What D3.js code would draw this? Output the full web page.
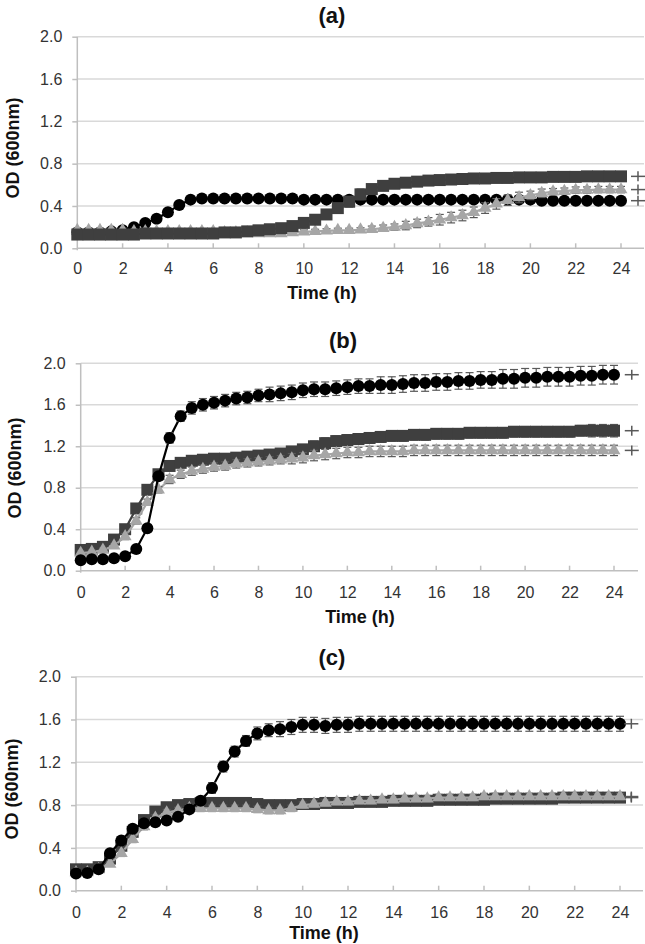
<!DOCTYPE html>
<html><head><meta charset="utf-8">
<script src="https://cdn.jsdelivr.net/npm/d3@7/dist/d3.min.js"></script>
<style>
html,body{margin:0;padding:0;background:#fff;}
svg{display:block;}
text{font-family:"Liberation Sans",Arial,sans-serif;}
</style></head><body>
<svg id="chart" width="645" height="944"></svg>
<script>
// ---------- DATA ----------
const times = d3.range(0, 24.01, 0.5); // 0, 0.5, ... 24 (sampling times, h)
const xTicks = [0,2,4,6,8,10,12,14,16,18,20,22,24];
const yTicks = [0.0,0.4,0.8,1.2,1.6,2.0];
const panelTitles = ["(a)","(b)","(c)"];
const xTitle = "Time (h)";
const yTitle = "OD (600nm)";

// Panel (a)
const aCircle = [0.15,0.15,0.15,0.16,0.17,0.20,0.24,0.28,0.34,0.41,0.46,0.47,0.47,0.47,0.47,0.47,0.47,0.47,0.47,0.47,0.46,0.46,0.46,0.46,0.46,0.46,0.46,0.46,0.46,0.46,0.46,0.46,0.46,0.46,0.46,0.46,0.46,0.46,0.46,0.46,0.46,0.45,0.45,0.45,0.45,0.45,0.45,0.45,0.45];
const aSquare = [0.13,0.13,0.13,0.13,0.13,0.13,0.14,0.14,0.14,0.14,0.14,0.14,0.14,0.15,0.15,0.16,0.17,0.18,0.19,0.21,0.24,0.27,0.32,0.38,0.44,0.51,0.56,0.59,0.61,0.62,0.63,0.64,0.645,0.65,0.655,0.66,0.66,0.665,0.665,0.67,0.67,0.67,0.675,0.675,0.675,0.68,0.68,0.68,0.68];
const aTriangle = [0.17,0.17,0.17,0.17,0.17,0.16,0.16,0.16,0.16,0.16,0.16,0.16,0.16,0.15,0.15,0.15,0.14,0.14,0.14,0.15,0.155,0.16,0.165,0.17,0.17,0.175,0.18,0.19,0.20,0.215,0.235,0.25,0.27,0.29,0.31,0.34,0.38,0.42,0.455,0.48,0.50,0.52,0.535,0.54,0.55,0.55,0.555,0.555,0.555];
const aCircleErr = [0.01,0.01,0.01,0.01,0.01,0.01,0.01,0.01,0.01,0.01,0.01,0.01,0.01,0.01,0.01,0.01,0.01,0.01,0.01,0.01,0.01,0.01,0.01,0.01,0.01,0.01,0.01,0.01,0.01,0.01,0.01,0.01,0.01,0.01,0.01,0.01,0.01,0.01,0.01,0.01,0.01,0.01,0.01,0.01,0.01,0.01,0.01,0.01,0.01];
const aSquareErr = [0.01,0.01,0.01,0.01,0.01,0.01,0.01,0.01,0.01,0.01,0.01,0.01,0.01,0.01,0.01,0.01,0.01,0.01,0.02,0.02,0.03,0.03,0.04,0.04,0.05,0.05,0.04,0.03,0.02,0.02,0.02,0.02,0.02,0.02,0.02,0.02,0.02,0.02,0.02,0.02,0.02,0.02,0.02,0.02,0.02,0.02,0.02,0.02,0.02];
const aTriangleErr = [0.02,0.02,0.02,0.02,0.02,0.02,0.02,0.02,0.02,0.02,0.02,0.02,0.02,0.02,0.02,0.02,0.02,0.02,0.02,0.02,0.02,0.02,0.02,0.02,0.02,0.02,0.03,0.03,0.03,0.04,0.04,0.04,0.05,0.05,0.05,0.05,0.05,0.05,0.05,0.05,0.04,0.04,0.03,0.03,0.03,0.03,0.03,0.03,0.03];

// Panel (b)
const bCircle = [0.10,0.11,0.11,0.12,0.14,0.21,0.41,0.91,1.28,1.49,1.57,1.60,1.62,1.64,1.66,1.67,1.69,1.70,1.71,1.72,1.74,1.75,1.75,1.76,1.77,1.78,1.78,1.79,1.79,1.80,1.81,1.81,1.82,1.82,1.83,1.83,1.84,1.84,1.85,1.85,1.86,1.86,1.87,1.87,1.87,1.88,1.88,1.89,1.89];
const bSquare = [0.20,0.21,0.23,0.30,0.40,0.60,0.78,0.93,1.01,1.04,1.06,1.07,1.08,1.08,1.09,1.10,1.11,1.12,1.13,1.15,1.17,1.20,1.23,1.25,1.26,1.27,1.28,1.29,1.30,1.30,1.31,1.31,1.32,1.32,1.32,1.33,1.33,1.33,1.33,1.34,1.34,1.34,1.34,1.34,1.34,1.35,1.35,1.35,1.35];
const bTriangle = [0.17,0.18,0.20,0.24,0.33,0.48,0.66,0.78,0.88,0.93,0.96,0.98,1.00,1.01,1.03,1.04,1.05,1.06,1.07,1.08,1.09,1.11,1.12,1.13,1.14,1.14,1.15,1.15,1.15,1.15,1.16,1.16,1.16,1.16,1.16,1.16,1.16,1.16,1.16,1.16,1.16,1.16,1.16,1.16,1.16,1.16,1.16,1.16,1.16];
const bCircleErr = [0.01,0.01,0.01,0.01,0.01,0.02,0.03,0.04,0.05,0.05,0.06,0.06,0.06,0.06,0.06,0.06,0.06,0.07,0.07,0.07,0.07,0.07,0.07,0.07,0.07,0.07,0.07,0.08,0.08,0.08,0.08,0.08,0.08,0.08,0.08,0.08,0.08,0.08,0.09,0.09,0.09,0.09,0.09,0.09,0.09,0.09,0.09,0.09,0.09];
const bSquareErr = [0.02,0.02,0.02,0.02,0.03,0.03,0.03,0.03,0.04,0.04,0.04,0.04,0.04,0.04,0.04,0.04,0.04,0.04,0.04,0.04,0.04,0.05,0.05,0.05,0.05,0.05,0.05,0.05,0.05,0.05,0.05,0.05,0.05,0.05,0.05,0.05,0.05,0.05,0.05,0.05,0.05,0.05,0.05,0.05,0.05,0.05,0.06,0.06,0.06];
const bTriangleErr = [0.02,0.02,0.02,0.02,0.03,0.03,0.03,0.03,0.04,0.04,0.04,0.04,0.04,0.04,0.04,0.04,0.04,0.04,0.04,0.05,0.05,0.05,0.05,0.05,0.05,0.05,0.05,0.05,0.05,0.05,0.05,0.05,0.05,0.05,0.05,0.05,0.05,0.05,0.05,0.05,0.05,0.05,0.05,0.05,0.05,0.05,0.05,0.05,0.05];

// Panel (c)
const cCircle = [0.16,0.165,0.20,0.35,0.47,0.58,0.63,0.64,0.655,0.69,0.76,0.84,0.96,1.16,1.30,1.40,1.47,1.50,1.51,1.53,1.55,1.55,1.54,1.55,1.55,1.56,1.56,1.56,1.56,1.56,1.56,1.56,1.56,1.56,1.56,1.56,1.56,1.56,1.56,1.56,1.56,1.56,1.56,1.56,1.56,1.56,1.56,1.56,1.56];
const cSquare = [0.20,0.20,0.22,0.30,0.42,0.55,0.66,0.74,0.78,0.80,0.81,0.82,0.82,0.82,0.82,0.82,0.81,0.80,0.80,0.80,0.81,0.81,0.82,0.82,0.82,0.83,0.83,0.83,0.84,0.84,0.84,0.84,0.85,0.85,0.85,0.85,0.85,0.86,0.86,0.86,0.86,0.86,0.86,0.87,0.87,0.87,0.87,0.87,0.87];
const cTriangle = [0.17,0.17,0.20,0.25,0.35,0.48,0.60,0.68,0.73,0.75,0.77,0.77,0.77,0.77,0.77,0.77,0.76,0.75,0.75,0.77,0.80,0.81,0.82,0.83,0.83,0.84,0.84,0.85,0.85,0.86,0.86,0.86,0.87,0.87,0.87,0.87,0.88,0.88,0.88,0.88,0.88,0.88,0.88,0.88,0.88,0.88,0.88,0.88,0.88];
const cCircleErr = [0.02,0.02,0.02,0.03,0.03,0.03,0.03,0.03,0.03,0.03,0.03,0.04,0.05,0.05,0.05,0.05,0.06,0.06,0.07,0.07,0.07,0.07,0.07,0.07,0.07,0.07,0.07,0.07,0.07,0.07,0.07,0.07,0.07,0.07,0.07,0.07,0.07,0.07,0.07,0.07,0.07,0.07,0.07,0.07,0.07,0.07,0.07,0.07,0.07];
const cSquareErr = [0.02,0.02,0.02,0.02,0.02,0.02,0.02,0.02,0.02,0.02,0.02,0.02,0.02,0.02,0.02,0.02,0.02,0.02,0.02,0.02,0.02,0.02,0.02,0.02,0.02,0.02,0.02,0.02,0.02,0.02,0.02,0.02,0.02,0.02,0.02,0.02,0.02,0.02,0.02,0.02,0.02,0.02,0.02,0.02,0.02,0.02,0.02,0.02,0.02];
const cTriangleErr = [0.02,0.02,0.02,0.02,0.03,0.03,0.03,0.03,0.03,0.03,0.03,0.03,0.03,0.03,0.03,0.03,0.03,0.03,0.03,0.03,0.03,0.03,0.03,0.03,0.03,0.03,0.03,0.03,0.03,0.03,0.03,0.03,0.03,0.03,0.03,0.03,0.03,0.03,0.03,0.03,0.03,0.03,0.03,0.03,0.03,0.03,0.03,0.03,0.03];

// ---------- STYLES / LAYOUT ----------
const style = {
  circle:   {fill:"#000000", line:"#000000"},
  square:   {fill:"#3f3f3f", line:"#3f3f3f"},
  triangle: {fill:"#a6a6a6", line:"#a6a6a6"}
};
const panels = [
  {title:panelTitles[0], left:77.3, x24:621, top:36.7, bottom:248.3, gridRight:644, plusX:24.75,
   titlePos:[332,15], xTitlePos:[322,293], yTitlePos:[13,148], xLabY:268,
   series:[{type:"circle",v:aCircle,e:aCircleErr},{type:"triangle",v:aTriangle,e:aTriangleErr},{type:"square",v:aSquare,e:aSquareErr}]},
  {title:panelTitles[1], left:80.7, x24:614, top:363.3, bottom:570.7, gridRight:638, plusX:24.8,
   titlePos:[343,340], xTitlePos:[360,617], yTitlePos:[15,468], xLabY:592,
   series:[{type:"square",v:bSquare,e:bSquareErr},{type:"triangle",v:bTriangle,e:bTriangleErr},{type:"circle",v:bCircle,e:bCircleErr}]},
  {title:panelTitles[2], left:76, x24:620, top:676.7, bottom:890.7, gridRight:643, plusX:24.5,
   titlePos:[332,657], xTitlePos:[324,933], yTitlePos:[12,789], xLabY:912,
   series:[{type:"square",v:cSquare,e:cSquareErr},{type:"triangle",v:cTriangle,e:cTriangleErr},{type:"circle",v:cCircle,e:cCircleErr}]}
];

const svg = d3.select("#chart");
const textCol = "#333333";

panels.forEach(p => {
  const g = svg.append("g");
  const x = d3.scaleLinear().domain([0,24]).range([p.left, p.x24]);
  const y = d3.scaleLinear().domain([0,2]).range([p.bottom, p.top]);

  // gridlines
  g.append("g").selectAll("line").data(yTicks.filter(t=>t>0)).join("line")
    .attr("x1", p.left).attr("x2", p.gridRight)
    .attr("y1", d=>y(d)).attr("y2", d=>y(d))
    .attr("stroke","#d9d9d9").attr("stroke-width",1.5);

  // y axis
  const yAxis = d3.axisLeft(y).tickValues(yTicks).tickFormat(d3.format(".1f")).tickSize(5).tickPadding(10);
  const ya = g.append("g").attr("transform",`translate(${p.left},0)`).call(yAxis);
  ya.select(".domain").remove();
  ya.selectAll(".tick line").attr("stroke","#bfbfbf").attr("stroke-width",1.5);
  ya.selectAll(".tick text").attr("font-size",16).attr("fill",textCol)
    .attr("font-family",'"Liberation Sans",Arial,sans-serif');
  g.append("line").attr("x1",p.left).attr("x2",p.left).attr("y1",p.top).attr("y2",p.bottom+2)
    .attr("stroke","#bfbfbf").attr("stroke-width",1.5);

  // x axis
  const xAxis = d3.axisBottom(x).tickValues(xTicks).tickFormat(d3.format("d")).tickSize(0).tickPadding(0);
  const xa = g.append("g").attr("transform",`translate(0,${p.bottom})`).call(xAxis);
  xa.select(".domain").remove();
  xa.selectAll(".tick text").attr("font-size",16).attr("fill",textCol)
    .attr("font-family",'"Liberation Sans",Arial,sans-serif')
    .attr("y", p.xLabY - p.bottom).attr("dy","0.35em");
  g.append("line").attr("x1",p.left).attr("x2",p.gridRight).attr("y1",p.bottom).attr("y2",p.bottom)
    .attr("stroke","#bfbfbf").attr("stroke-width",1.5);
  g.append("g").selectAll("line").data(xTicks.filter(t=>t>0)).join("line")
    .attr("x1",d=>x(d)).attr("x2",d=>x(d)).attr("y1",p.bottom).attr("y2",p.bottom-5)
    .attr("stroke","#bfbfbf").attr("stroke-width",1.5);

  // titles
  g.append("text").attr("x",p.titlePos[0]).attr("y",p.titlePos[1]).attr("dy","0.35em")
    .attr("text-anchor","middle").attr("font-size",22).attr("font-weight","bold").attr("fill","#111").text(p.title);
  g.append("text").attr("x",p.xTitlePos[0]).attr("y",p.xTitlePos[1]).attr("dy","0.35em")
    .attr("text-anchor","middle").attr("font-size",18).attr("font-weight","bold").attr("fill","#111").text(xTitle);
  g.append("text").attr("transform",`translate(${p.yTitlePos[0]},${p.yTitlePos[1]}) rotate(-90)`).attr("dy","0.35em")
    .attr("text-anchor","middle").attr("font-size",18).attr("font-weight","bold").attr("fill","#111").text(yTitle);

  const line = d3.line().x((d,i)=>x(times[i])).y(d=>y(d));

  p.series.forEach(s => {
    const st = style[s.type];
    const sg = g.append("g");
    sg.append("path").datum(s.v).attr("d", line).attr("fill","none")
      .attr("stroke", st.line).attr("stroke-width", 2.2);
    // error bars
    const eb = sg.append("g").attr("stroke","#595959").attr("stroke-width",1.2);
    s.v.forEach((v,i) => {
      const cx = x(times[i]), e = s.e[i];
      const y1 = y(v+e), y2 = y(v-e);
      eb.append("line").attr("x1",cx).attr("x2",cx).attr("y1",y1).attr("y2",y2);
      eb.append("line").attr("x1",cx-4).attr("x2",cx+4).attr("y1",y1).attr("y2",y1);
      eb.append("line").attr("x1",cx-4).attr("x2",cx+4).attr("y1",y2).attr("y2",y2);
    });
    // markers
    let sym;
    if (s.type==="circle") sym = d3.symbol().type(d3.symbolCircle).size(Math.PI*6*6);
    else if (s.type==="square") sym = d3.symbol().type(d3.symbolSquare).size(12*12);
    else sym = d3.symbol().type(d3.symbolTriangle).size(72);
    sg.append("g").selectAll("path").data(s.v).join("path")
      .attr("transform",(d,i)=>`translate(${x(times[i])},${y(d)})`)
      .attr("d", sym).attr("fill", st.fill);
    // end "+" mark
    const last = s.v[s.v.length-1];
    const px = x(p.plusX), py = y(last);
    sg.append("line").attr("x1",px-7).attr("x2",px+7).attr("y1",py).attr("y2",py).attr("stroke","#595959").attr("stroke-width",1.5);
    sg.append("line").attr("x1",px).attr("x2",px).attr("y1",py-5).attr("y2",py+5).attr("stroke","#595959").attr("stroke-width",1.5);
  });
});
</script>
</body></html>
